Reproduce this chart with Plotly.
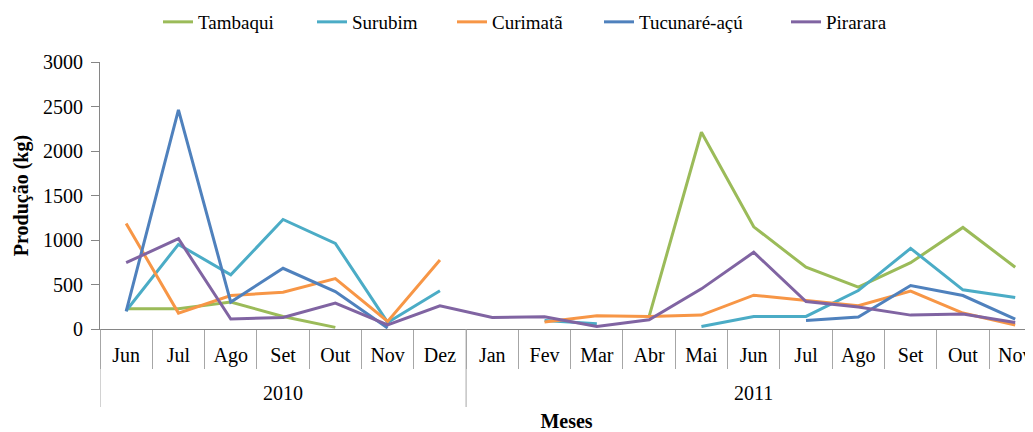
import plotly.graph_objects as go

years = ["2010", "2011"]
year_sizes = [7, 11]
months = ["Jun", "Jul", "Ago", "Set", "Out", "Nov", "Dez",
          "Jan", "Fev", "Mar", "Abr", "Mai", "Jun", "Jul", "Ago", "Set", "Out", "Nov"]
idx = list(range(len(months)))

tambaqui = [227, 227, 302, 141, 18, None, None,
            None, None, None, 141, 2211, 1148, 694, 470, 745, 1141, 694]
surubim = [205, 951, 608, 1231, 962, 74, 429,
           None, 96, 59, None, 29, 141, 141, 432, 906, 440, 354]
curimata = [1186, 179, 376, 414, 566, 85, 775,
            None, 78, 149, 141, 156, 380, 320, 261, 425, 179, 45]
tucunare = [197, 2462, 302, 682, 421, 11, None,
            None, None, None, None, None, None, 96, 134, 488, 376, 112]
pirarara = [745, 1014, 112, 130, 291, 45, 261,
            130, 138, 29, 104, 451, 862, 309, 246, 156, 168, 74]

names = ["Tambaqui", "Surubim", "Curimatã", "Tucunaré-açú", "Pirarara"]
values = [tambaqui, surubim, curimata, tucunare, pirarara]
colors = ["#9BBB59", "#4BACC6", "#F79646", "#4F81BD", "#8064A2"]

FONT = "Liberation Serif"
OFF = 8  # default page body margin
W, H = 1033 - OFF, 432 - OFF
ML, MR, MT, MB = 100 - OFF, 0, 62 - OFF, 103
plot_w = W - ML - MR
plot_h = H - MT - MB
plot_bottom = MT + plot_h  # in figure px


def py(page_y):
    """page pixel y -> paper y"""
    return (plot_bottom - (page_y - OFF)) / plot_h


# legend entry starts (page px) as seen in the reference
legend_px = [159, 313, 453, 600, 787]

fig = go.Figure()
legend_ids = ["legend", "legend2", "legend3", "legend4", "legend5"]
for name, vals, color, lid in zip(names, values, colors, legend_ids):
    fig.add_trace(go.Scatter(
        x=idx, y=vals, name=name, mode="lines",
        line=dict(color=color, width=3), connectgaps=False,
        legend=lid,
    ))

legend_layout = {}
for lid, px in zip(legend_ids, legend_px):
    legend_layout[lid] = dict(
        x=(px - 100 - 1) / plot_w, xanchor="left",
        y=py(22), yanchor="middle",
        orientation="h", font=dict(family=FONT, size=19, color="black"),
        bgcolor="rgba(0,0,0,0)", borderwidth=0, itemwidth=30,
    )

# year group boundaries
bounds = [-0.5]
for s in year_sizes:
    bounds.append(bounds[-1] + s)
year_centers = [(bounds[i] + bounds[i + 1]) / 2 for i in range(len(years))]

shapes = []
for b in bounds[:-1]:
    shapes.append(dict(type="line", xref="x", yref="paper", x0=b, x1=b,
                       y0=0, y1=py(407),
                       line=dict(color="#A6A6A6", width=1)))

annotations = []
for yr, c in zip(years, year_centers):
    annotations.append(dict(text=yr, x=c, xref="x", yref="paper",
                            y=py(393), yanchor="middle",
                            showarrow=False, font=dict(family=FONT, size=20, color="black")))

fig.update_layout(
    width=W, height=H,
    margin=dict(l=ML, r=MR, t=MT, b=MB, autoexpand=False),
    plot_bgcolor="white", paper_bgcolor="white",
    font=dict(family=FONT, size=20, color="black"),
    showlegend=True,
    shapes=shapes, annotations=annotations,
    **legend_layout,
)
fig.update_xaxes(
    range=[-0.5, 17.34], tickmode="array", tickvals=idx, ticktext=months,
    showline=True, linecolor="#868686", linewidth=1,
    ticks="", ticklabelstandoff=8,
    minor=dict(tickmode="array", tickvals=[i - 0.5 for i in idx] + [17.5],
               ticks="outside", ticklen=39, tickcolor="#A6A6A6", tickwidth=1, showgrid=False),
    showgrid=False, zeroline=False, tickfont=dict(family=FONT, size=20),
    automargin=False,
    title=dict(text="<b>Meses</b>", font=dict(family=FONT, size=20), standoff=50),
)
fig.update_yaxes(
    range=[0, 3000], tickvals=[0, 500, 1000, 1500, 2000, 2500, 3000], showgrid=False,
    showline=True, linecolor="#868686", linewidth=1,
    ticks="outside", ticklen=8, tickcolor="#868686", ticklabelstandoff=4,
    tickfont=dict(family=FONT, size=20), zeroline=False, automargin=False,
    title=dict(text="<b>Produção (kg)</b>", font=dict(family=FONT, size=20), standoff=9),
)

fig.write_html("out.html")
